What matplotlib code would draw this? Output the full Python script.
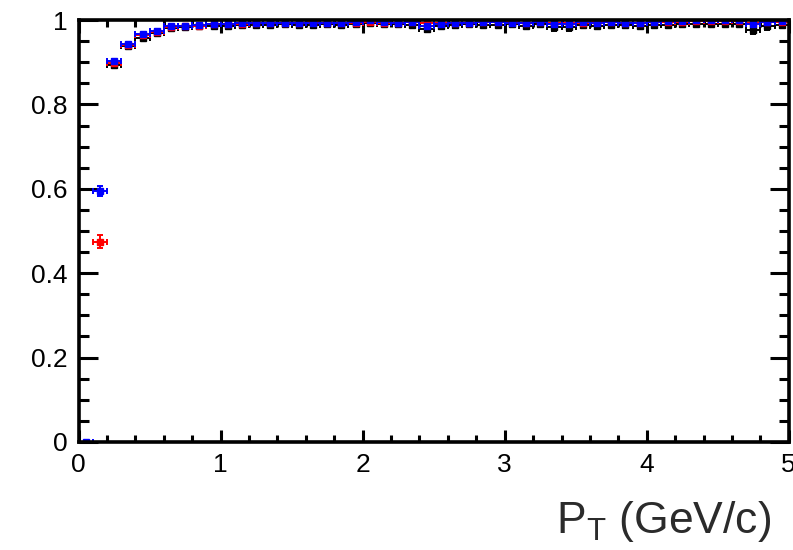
"""
Efficiency vs PT, ROOT-style plot with three series (black / red / blue).
"""
import numpy as np
import matplotlib
matplotlib.use('Agg')
import matplotlib.pyplot as plt
from matplotlib.ticker import MultipleLocator, FixedLocator

OUTPUT_PNG = "out.png"

# bin centres (GeV/c), bin half-width 0.05
pt = [0.05, 0.15, 0.25, 0.35, 0.45, 0.55, 0.65, 0.75, 0.85, 0.95,
      1.05, 1.15, 1.25, 1.35, 1.45, 1.55, 1.65, 1.75, 1.85, 1.95,
      2.05, 2.15, 2.25, 2.35, 2.45, 2.55, 2.65, 2.75, 2.85, 2.95,
      3.05, 3.15, 3.25, 3.35, 3.45, 3.55, 3.65, 3.75, 3.85, 3.95,
      4.05, 4.15, 4.25, 4.35, 4.45, 4.55, 4.65, 4.75, 4.85, 4.95]
pt_err = [0.05] * len(pt)

nan = float("nan")
eff_black = [nan, nan, 0.893, 0.938, 0.958, 0.970, 0.981, 0.983, 0.985, 0.987,
             0.987, 0.988, 0.989, 0.989, 0.990, 0.989, 0.988, 0.990, 0.989, 0.990,
             0.993, 0.991, 0.990, 0.989, 0.979, 0.985, 0.988, 0.990, 0.989, 0.989,
             0.990, 0.987, 0.990, 0.983, 0.983, 0.988, 0.986, 0.989, 0.988, 0.987,
             0.988, 0.988, 0.990, 0.991, 0.991, 0.991, 0.991, 0.976, 0.985, 0.988]
err_black = [0, 0, 0.006, 0.005, 0.005, 0.005, 0.004, 0.004, 0.004, 0.004,
             0.004, 0.004, 0.004, 0.004, 0.004, 0.004, 0.005, 0.005, 0.005, 0.005,
             0.005, 0.005, 0.006, 0.006, 0.008, 0.007, 0.006, 0.006, 0.006, 0.006,
             0.006, 0.006, 0.006, 0.008, 0.008, 0.006, 0.007, 0.006, 0.007, 0.007,
             0.007, 0.007, 0.006, 0.006, 0.006, 0.006, 0.006, 0.010, 0.008, 0.007]

eff_red = [nan, 0.475, 0.897, 0.940, 0.964, 0.972, 0.984, 0.985, 0.986, 0.990,
           0.990, 0.991, 0.992, 0.992, 0.993, 0.992, 0.996, 0.992, 0.993, 0.994,
           0.996, 0.994, 0.993, 0.996, 0.994, 0.992, 0.993, 0.994, 0.996, 0.995,
           0.996, 0.994, 0.995, 0.993, 0.992, 0.994, 0.995, 0.995, 0.994, 0.994,
           0.995, 0.996, 0.996, 0.997, 0.997, 0.997, 0.997, 0.994, 0.996, 0.996]
err_red = [0, 0.015, 0.006, 0.005, 0.004, 0.004, 0.003, 0.003, 0.003, 0.003,
           0.003, 0.003, 0.003, 0.003, 0.003, 0.003, 0.003, 0.003, 0.003, 0.003,
           0.003, 0.003, 0.004, 0.004, 0.004, 0.004, 0.004, 0.004, 0.004, 0.004,
           0.004, 0.004, 0.004, 0.004, 0.004, 0.004, 0.004, 0.004, 0.004, 0.004,
           0.004, 0.004, 0.004, 0.004, 0.004, 0.004, 0.004, 0.005, 0.005, 0.005]

eff_blue = [0.0, 0.595, 0.902, 0.944, 0.966, 0.975, 0.985, 0.986, 0.988, 0.990,
            0.991, 0.992, 0.993, 0.993, 0.994, 0.993, 0.994, 0.993, 0.994, 0.995,
            0.999, 0.995, 0.994, 0.995, 0.986, 0.990, 0.993, 0.994, 0.995, 0.995,
            0.994, 0.994, 0.995, 0.990, 0.991, 0.995, 0.994, 0.995, 0.994, 0.994,
            0.996, 0.997, 0.998, 0.999, 0.999, 0.999, 0.999, 0.990, 0.996, 0.997]
err_blue = [0, 0.012, 0.005, 0.004, 0.004, 0.003, 0.003, 0.003, 0.003, 0.003,
            0.003, 0.003, 0.003, 0.003, 0.003, 0.003, 0.003, 0.003, 0.003, 0.003,
            0.003, 0.003, 0.003, 0.003, 0.005, 0.004, 0.003, 0.003, 0.003, 0.003,
            0.003, 0.003, 0.003, 0.004, 0.004, 0.003, 0.003, 0.003, 0.003, 0.003,
            0.003, 0.003, 0.003, 0.003, 0.003, 0.003, 0.003, 0.006, 0.004, 0.004]


def main():
    plt.rcParams["font.family"] = ["Liberation Sans", "DejaVu Sans"]
    plt.rcParams["mathtext.default"] = "regular"

    fig = plt.figure(figsize=(7.93, 5.5), dpi=100)
    ax = fig.add_axes([0.0992, 0.1964, 0.8954, 0.7672])

    series = [(eff_black, err_black, "black"),
              (eff_red, err_red, "#ff0000"),
              (eff_blue, err_blue, "#0000ff")]
    for eff, err, col in series:
        ax.errorbar(pt, eff, xerr=pt_err, yerr=err, fmt="s", color=col,
                    markersize=4, elinewidth=1.4, capsize=2.5, capthick=1.4)

    ax.set_xlim(0, 5)
    ax.set_ylim(0, 1)

    ax.xaxis.set_major_locator(MultipleLocator(1))
    ax.xaxis.set_minor_locator(MultipleLocator(0.2))
    ax.yaxis.set_major_locator(FixedLocator([0, 0.2, 0.4, 0.6, 0.8, 1.0]))
    ax.yaxis.set_minor_locator(MultipleLocator(0.05))
    ax.set_yticklabels(["0", "0.2", "0.4", "0.6", "0.8", "1"])

    ax.tick_params(axis="both", which="both", direction="in", top=True, right=True,
                   width=2.2, colors="black", labelsize=19)
    ax.tick_params(axis="x", which="major", length=9, pad=8)
    ax.tick_params(axis="x", which="minor", length=5)
    ax.tick_params(axis="y", which="major", length=14, pad=8)
    ax.tick_params(axis="y", which="minor", length=7)
    for sp in ax.spines.values():
        sp.set_linewidth(2.6)

    fig.text(0.972, 1 - 533 / 550, r"P$_{T}$ (GeV/c)", ha="right", va="baseline",
             fontsize=32, color="#2b2b2b")

    fig.savefig(OUTPUT_PNG, dpi=100)


if __name__ == "__main__":
    main()
